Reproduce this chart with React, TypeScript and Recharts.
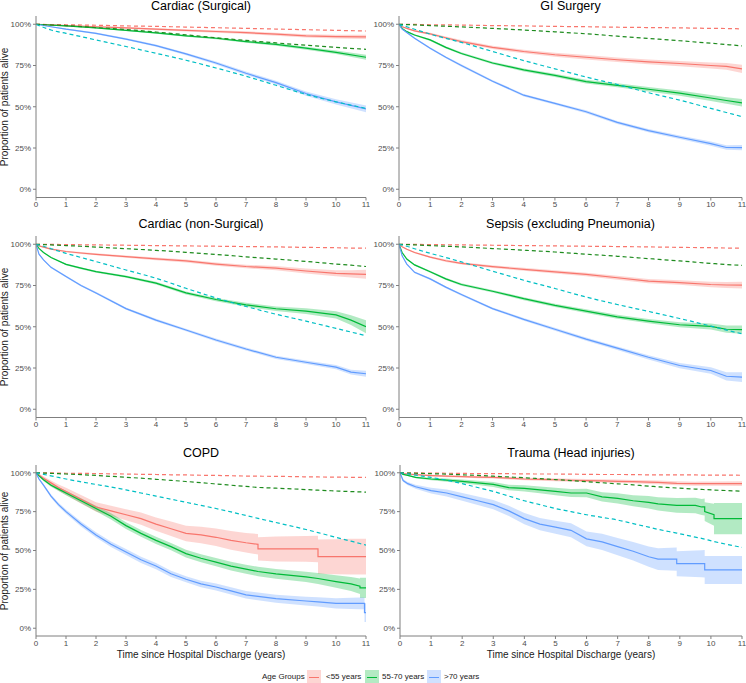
import { ComposedChart, Area, Line, XAxis, YAxis } from 'recharts'

const FONT = '"Liberation Sans", Arial, sans-serif'
const RED = '#F8766D'
const GREEN = '#00BA38'
const BLUE = '#619CFF'
const RED_EXP = '#F8766D'
const GREEN_EXP = '#1E8B1E'
const BLUE_EXP = '#00BFC4'
const AXIS = '#7F7F7F'

const X_TICKS = [0, 1, 2, 3, 4, 5, 6, 7, 8, 9, 10, 11]
const Y_TICKS = [0, 25, 50, 75, 100]
const GROUPS = ['<55 years', '55-70 years', '>70 years']

// ---- Cardiac (Surgical) ----
const CS_T = [0, 0.5, 1, 2, 3, 4, 5, 6, 7, 8, 9, 10, 11]
const CS_RED = [100, 99.6, 99.2, 98.5, 97.8, 97, 96.3, 95.6, 94.9, 94, 93, 92.5, 92.3]
const CS_RED_CI = [0, 0.3, 0.4, 0.5, 0.6, 0.6, 0.7, 0.7, 0.8, 0.9, 1, 1.1, 1.3]
const CS_GREEN = [100, 99.5, 99, 97.8, 96.3, 94.8, 93, 91.5, 89.5, 87.8, 85.5, 83, 80]
const CS_GREEN_CI = [0, 0.2, 0.3, 0.4, 0.4, 0.5, 0.5, 0.6, 0.7, 0.8, 0.9, 1.1, 1.5]
const CS_BLUE = [100, 98.5, 97, 94.5, 91, 87, 82, 76.5, 70.3, 64.6, 58, 53, 48.7]
const CS_BLUE_CI = [0, 0.3, 0.4, 0.5, 0.6, 0.7, 0.8, 0.9, 1, 1.1, 1.3, 1.6, 2]
const CS_EXP_RED = [100, 99.8, 99.7, 99.4, 99.0, 98.7, 98.3, 97.9, 97.5, 97.1, 96.7, 96.3, 95.9]
const CS_EXP_GREEN = [100, 99.6, 99.2, 98, 96.8, 95.3, 93.6, 91.8, 90.2, 88.7, 87.3, 86, 84.8]
const CS_EXP_BLUE = [100, 96.5, 94.5, 90.5, 86.5, 82.4, 78.2, 73.5, 68.5, 63, 57.5, 53, 49]

// ---- shared time grid for the smooth panels ----
const SMOOTH_T = [0, 0.1, 0.25, 0.5, 1, 1.5, 2, 3, 4, 5, 6, 7, 8, 9, 10, 10.5, 11]

// ---- GI Surgery ----
const GI_RED = [100, 98.5, 97.5, 96, 94.2, 91.8, 89.5, 86, 83.5, 81.5, 80, 78.5, 77.2, 76.2, 75, 74.5, 73]
const GI_RED_CI = [0, 0.3, 0.4, 0.5, 0.7, 0.8, 0.9, 1, 1.1, 1.2, 1.3, 1.4, 1.5, 1.6, 1.8, 2, 2.5]
const GI_GREEN = [100, 97.5, 95.5, 93.5, 90.5, 86, 82.3, 76.5, 72.3, 69, 65.2, 63, 60.6, 58.3, 55.3, 53.8, 52.4]
const GI_GREEN_CI = [0, 0.3, 0.4, 0.5, 0.6, 0.7, 0.7, 0.8, 0.9, 1, 1.1, 1.2, 1.4, 1.6, 1.8, 2, 2.3]
const GI_BLUE = [100, 97, 95, 91.5, 85.5, 80, 75, 65.5, 57, 52, 47, 40.5, 35.5, 31.5, 27.7, 25.3, 25.2]
const GI_BLUE_CI = [0, 0.3, 0.4, 0.5, 0.6, 0.6, 0.7, 0.7, 0.8, 0.8, 0.9, 0.9, 1, 1.1, 1.3, 1.4, 1.6]
const GI_EXP_RED = [100, 100, 99.9, 99.9, 99.7, 99.6, 99.5, 99.2, 99, 98.7, 98.5, 98.2, 98, 97.8, 97.5, 97.4, 97.2]
const GI_EXP_GREEN = [100, 99.9, 99.8, 99.6, 99.2, 98.8, 98.4, 97.5, 96.5, 95.4, 94.2, 92.8, 91.4, 90, 88.5, 87.7, 86.9]
const GI_EXP_BLUE = [100, 99.3, 98.5, 97, 94, 91.5, 89, 83.5, 78, 73, 68, 63.5, 58.5, 54, 49, 46.5, 44]

// ---- Cardiac (non-Surgical) ----
const CN_RED = [100, 99, 98.3, 97, 95.6, 94.7, 93.9, 92.5, 91.1, 89.9, 88, 86.5, 85.5, 83.8, 82.4, 82, 81.8]
const CN_RED_CI = [0, 0.2, 0.3, 0.4, 0.5, 0.6, 0.6, 0.7, 0.8, 0.9, 1, 1.1, 1.3, 1.5, 1.8, 2.2, 2.7]
const CN_GREEN = [100, 97.5, 95, 92, 87.8, 85.5, 83.4, 80.4, 76.4, 70.5, 66.5, 63.3, 60.9, 59.5, 57.2, 54, 50]
const CN_GREEN_CI = [0, 0.2, 0.3, 0.4, 0.5, 0.6, 0.6, 0.7, 0.8, 0.9, 1, 1.2, 1.4, 1.7, 2.2, 3, 4]
const CN_BLUE = [100, 94, 90.5, 86, 80.5, 75, 70.5, 61, 54, 48, 42, 36.5, 31.5, 28.5, 25.5, 22.5, 21.5]
const CN_BLUE_CI = [0, 0.3, 0.4, 0.5, 0.6, 0.6, 0.7, 0.7, 0.8, 0.8, 0.9, 0.9, 1, 1.1, 1.3, 1.5, 1.8]
const CN_EXP_RED = [100, 100, 99.9, 99.9, 99.8, 99.7, 99.6, 99.4, 99.2, 99, 98.8, 98.6, 98.4, 98.1, 97.9, 97.7, 97.6]
const CN_EXP_GREEN = [100, 99.9, 99.8, 99.6, 99.2, 98.8, 98.3, 97.3, 96.3, 95.1, 93.8, 92.4, 91, 89.6, 88, 87.3, 86.5]
const CN_EXP_BLUE = [100, 99.5, 98.8, 97.3, 94.5, 92, 89.5, 84.4, 79.4, 73.3, 67.5, 62.3, 57.6, 53.4, 49, 46.8, 44.6]

// ---- Sepsis (excluding Pneumonia) ----
const SP_RED = [100, 98.5, 97, 95, 92.2, 90, 88.4, 86.4, 84.8, 83.3, 81.7, 79.7, 77.6, 76.8, 75.6, 75.3, 75.2]
const SP_RED_CI = [0, 0.3, 0.4, 0.5, 0.6, 0.7, 0.7, 0.8, 0.9, 1, 1.1, 1.2, 1.3, 1.4, 1.6, 1.8, 2]
const SP_GREEN = [100, 95, 91, 87.5, 83.3, 79, 75.6, 71.5, 67, 63, 59.5, 56, 53.4, 51.2, 50.2, 48.5, 48.2]
const SP_GREEN_CI = [0, 0.3, 0.4, 0.5, 0.6, 0.7, 0.7, 0.8, 0.9, 1, 1.1, 1.2, 1.3, 1.5, 1.8, 2.2, 2.5]
const SP_BLUE = [100, 93, 88, 83, 79, 74, 69.5, 61, 54.5, 48.5, 42.5, 37, 31.5, 26.5, 23.5, 20, 19.5]
const SP_BLUE_CI = [0, 0.3, 0.4, 0.5, 0.6, 0.6, 0.7, 0.7, 0.8, 0.9, 1, 1.1, 1.3, 1.6, 2, 2.5, 3]
const SP_EXP_RED = [100, 100, 99.9, 99.9, 99.8, 99.7, 99.6, 99.4, 99.2, 99, 98.8, 98.6, 98.4, 98.1, 97.9, 97.7, 97.6]
const SP_EXP_GREEN = [100, 99.9, 99.8, 99.6, 99.2, 98.8, 98.4, 97.4, 96.4, 95.3, 94, 92.7, 91.3, 89.9, 88.4, 87.7, 87.2]
const SP_EXP_BLUE = [100, 99.5, 98.8, 97.3, 94.5, 92, 89.3, 83.7, 78.2, 73.2, 68, 63.5, 59.3, 55, 50.4, 48, 45.7]

// ---- COPD (repeated times mark the KM steps) ----
const CO_T = [0, 0.1, 0.25, 0.5, 0.75, 1, 1.5, 2, 2.5, 3, 3.5, 4, 4.5, 5, 5.5, 6, 6.5, 7, 7.4, 7.4, 8, 9, 9.4, 9.4, 10, 10.5, 10.8, 10.8, 10.95, 10.95, 11]
const CO_RED = [100, 98.5, 96.5, 93.5, 90.5, 88, 83, 78, 75.5, 73, 70.5, 67, 64, 61, 60, 58.5, 56.5, 55, 54, 51, 51, 51, 51, 46, 46, 46, 46, 46, 46, 46, 46]
const CO_RED_CI = [0, 0.8, 1.2, 1.6, 2, 2.3, 2.7, 3, 3.3, 3.6, 4, 4.3, 4.6, 5, 5.3, 5.6, 6, 6.3, 6.6, 7.5, 8, 8.3, 8.5, 11, 11.3, 11.5, 11.5, 11.5, 11.5, 11.5, 11.5]
const CO_GREEN = [100, 98, 95.5, 92, 89.5, 87, 82, 77, 72, 66, 61, 56.5, 52.5, 48, 45, 42.5, 40, 38, 36.5, 36.5, 35, 33, 32, 32, 30, 28.5, 27, 26, 26, 26, 26]
const CO_GREEN_CI = [0, 0.5, 0.8, 1, 1.2, 1.4, 1.6, 1.8, 2, 2.1, 2.2, 2.3, 2.4, 2.5, 2.6, 2.7, 2.8, 2.9, 3, 3, 3.1, 3.3, 3.5, 3.5, 4, 4.5, 5, 6.5, 6.5, 6.5, 6.5]
const CO_BLUE = [100, 96, 92, 85, 79.5, 75, 67, 60, 54, 49, 44, 40, 35, 31.5, 28.5, 26.5, 24, 21.5, 20.5, 20.5, 19, 17.5, 17, 17, 16, 16, 16, 16, 16, 10, 10]
const CO_BLUE_CI = [0, 0.6, 0.8, 1, 1.2, 1.4, 1.6, 1.7, 1.8, 1.9, 2, 2, 2, 2, 2.1, 2.2, 2.3, 2.4, 2.5, 2.5, 2.6, 2.8, 3, 3, 3.3, 3.6, 3.8, 3.8, 3.8, 6, 6]
const CO_EXP_RED = [100, 100, 99.9, 99.9, 99.8, 99.7, 99.6, 99.5, 99.3, 99.2, 99, 98.9, 98.7, 98.6, 98.4, 98.3, 98.1, 97.9, 97.8, 97.8, 97.7, 97.4, 97.3, 97.3, 97.2, 97.1, 97, 97, 97, 97, 97]
const CO_EXP_GREEN = [100, 99.9, 99.8, 99.6, 99.4, 99.2, 98.8, 98.3, 97.7, 97.1, 96.5, 95.8, 95.1, 94.4, 93.6, 92.8, 92, 91.2, 90.6, 90.6, 90.1, 89.2, 88.8, 88.8, 88.3, 87.9, 87.7, 87.7, 87.6, 87.6, 87.5]
const CO_EXP_BLUE = [100, 99.6, 99, 98, 97, 96, 94.2, 92.5, 90.8, 89, 87, 85, 83, 81, 79, 77, 74.8, 72.5, 70.7, 70.7, 68, 63.5, 61.5, 61.5, 58.5, 56, 54.5, 54.5, 53.8, 53.8, 53.5]

// ---- Trauma (Head injuries) ----
const TR_T = [0, 0.1, 0.25, 0.5, 1, 1.5, 2, 2.5, 3, 3.5, 4, 4.5, 5, 5.5, 6, 6.5, 7, 7.5, 8, 8.3, 8.9, 8.9, 9.5, 9.7, 9.8, 9.8, 10.1, 10.1, 11]
const TR_RED = [100, 99.5, 99.2, 98.8, 98.2, 97.8, 97.5, 97.2, 97, 96.5, 96, 95.8, 95.5, 95.2, 95, 94.8, 94.5, 94.3, 94, 93.8, 93.2, 93.2, 93, 93, 93, 93, 93, 93, 93]
const TR_RED_CI = [0, 0.2, 0.3, 0.4, 0.5, 0.6, 0.6, 0.7, 0.7, 0.8, 0.8, 0.9, 0.9, 1, 1, 1, 1.1, 1.1, 1.2, 1.2, 1.3, 1.3, 1.3, 1.4, 1.4, 1.4, 1.4, 1.4, 1.5]
const TR_GREEN = [100, 99, 98.3, 97, 96, 95.3, 94.5, 93.5, 92.5, 90.5, 90, 89, 88, 87, 87, 84.5, 83.5, 82, 81, 80, 79, 79, 79, 78, 78, 75, 73, 70.5, 70.5]
const TR_GREEN_CI = [0, 0.3, 0.4, 0.6, 0.8, 1, 1.2, 1.4, 1.6, 1.8, 2, 2.2, 2.4, 2.6, 2.8, 3, 3.3, 3.6, 4, 4.3, 4.7, 4.7, 5, 5.2, 5.5, 6, 7, 10, 10]
const TR_BLUE = [100, 95, 93, 91, 88.5, 87, 84.5, 82, 79.5, 75.5, 70.5, 67, 65, 63, 57.5, 55.5, 52.5, 49.5, 46, 44.5, 44.5, 41.5, 41.5, 41.5, 41.5, 37.5, 37.5, 37.5, 37.5]
const TR_BLUE_CI = [0, 0.8, 1, 1.3, 1.8, 2.2, 2.5, 2.8, 3, 3.3, 3.6, 3.9, 4.2, 4.5, 4.8, 5.2, 5.6, 6, 6.5, 7, 7.5, 8, 8.5, 8.7, 8.8, 9, 9, 9, 9]
const TR_EXP_RED = [100, 100, 99.9, 99.9, 99.8, 99.7, 99.6, 99.5, 99.5, 99.4, 99.3, 99.2, 99.2, 99.1, 99, 98.9, 98.9, 98.8, 98.7, 98.7, 98.6, 98.6, 98.6, 98.5, 98.5, 98.5, 98.5, 98.5, 98.4]
const TR_EXP_GREEN = [100, 99.9, 99.8, 99.7, 99.4, 99.1, 98.7, 98.3, 97.8, 97.3, 96.8, 96.2, 95.6, 95, 94.3, 93.6, 92.9, 92.2, 91.4, 91, 90.2, 90.2, 89.5, 89.3, 89.2, 89.2, 88.9, 88.9, 88.2]
const TR_EXP_BLUE = [100, 99.7, 99.3, 98.5, 97, 95.2, 93, 90.5, 88, 85, 82, 79.5, 77, 75, 73, 71.3, 69.6, 67.3, 65, 63.6, 61.2, 61.2, 58.6, 57.8, 57.3, 57.3, 55.8, 55.8, 52]

type Row = Record<string, number | number[]>

function buildRows(
  t: number[],
  red: number[], redCi: number[],
  green: number[], greenCi: number[],
  blue: number[], blueCi: number[],
  eRed: number[], eGreen: number[], eBlue: number[],
): Row[] {
  return t.map((x, i) => ({
    t: x,
    red: red[i],
    redBand: [red[i] - redCi[i], red[i] + redCi[i]],
    green: green[i],
    greenBand: [green[i] - greenCi[i], green[i] + greenCi[i]],
    blue: blue[i],
    blueBand: [blue[i] - blueCi[i], blue[i] + blueCi[i]],
    eRed: eRed[i],
    eGreen: eGreen[i],
    eBlue: eBlue[i],
  }))
}

const Y_W = 36
const X_H = 15

function SurvPanel({ title, rows, plotLeft, plotTop, plotW, plotH, titleTop, yLabel, xLabel }: {
  title: string; rows: Row[]; plotLeft: number; plotTop: number; plotW: number; plotH: number
  titleTop: number; yLabel?: boolean; xLabel?: boolean
}) {
  const tickStyle = { fill: '#4D4D4D', fontSize: 8, fontFamily: FONT }
  return (
    <>
      <div style={{
        position: 'absolute', left: plotLeft, top: titleTop, width: plotW,
        textAlign: 'center', fontSize: 12.5, lineHeight: '14px', color: '#000', fontWeight: 400,
      }}>{title}</div>
      {yLabel && (
        <div style={{
          position: 'absolute', left: 5, top: plotTop + plotH / 2, width: 200,
          textAlign: 'center', fontSize: 10, lineHeight: '12px', color: '#1A1A1A',
          transform: 'translate(-50%, -50%) rotate(-90deg)',
        }}>Proportion of patients alive</div>
      )}
      {xLabel && (
        <div style={{
          position: 'absolute', left: plotLeft, top: plotTop + plotH + 13, width: plotW,
          textAlign: 'center', fontSize: 10, lineHeight: '12px', color: '#1A1A1A',
        }}>Time since Hospital Discharge (years)</div>
      )}
      <div style={{ position: 'absolute', left: plotLeft - Y_W, top: plotTop }}>
        <ComposedChart
          width={Y_W + plotW + 4}
          height={plotH + X_H}
          data={rows}
          margin={{ top: 0, right: 4, bottom: 0, left: 0 }}
        >
          <XAxis
            dataKey="t" type="number" domain={[0, 11]} ticks={X_TICKS} interval={0}
            height={X_H} tick={tickStyle} tickSize={3} tickMargin={1}
            axisLine={{ stroke: AXIS }} tickLine={{ stroke: AXIS }}
            allowDataOverflow
          />
          <YAxis
            type="number" domain={[-5, 105]} ticks={Y_TICKS} interval={0}
            width={Y_W} tick={tickStyle} tickSize={3} tickMargin={2}
            tickFormatter={(v: number) => `${v}%`}
            axisLine={{ stroke: AXIS }} tickLine={{ stroke: AXIS }}
            allowDataOverflow
          />
          <Area dataKey="redBand" type="linear" stroke="none" fill={RED} fillOpacity={0.3} dot={false} activeDot={false} isAnimationActive={false} />
          <Area dataKey="greenBand" type="linear" stroke="none" fill={GREEN} fillOpacity={0.3} dot={false} activeDot={false} isAnimationActive={false} />
          <Area dataKey="blueBand" type="linear" stroke="none" fill={BLUE} fillOpacity={0.3} dot={false} activeDot={false} isAnimationActive={false} />
          <Line dataKey="red" type="linear" stroke={RED} strokeWidth={1.2} dot={false} activeDot={false} isAnimationActive={false} />
          <Line dataKey="green" type="linear" stroke={GREEN} strokeWidth={1.2} dot={false} activeDot={false} isAnimationActive={false} />
          <Line dataKey="blue" type="linear" stroke={BLUE} strokeWidth={1.2} dot={false} activeDot={false} isAnimationActive={false} />
          <Line dataKey="eRed" type="monotone" stroke={RED_EXP} strokeWidth={1.2} strokeDasharray="4 3" dot={false} activeDot={false} isAnimationActive={false} />
          <Line dataKey="eGreen" type="monotone" stroke={GREEN_EXP} strokeWidth={1.2} strokeDasharray="4 3" dot={false} activeDot={false} isAnimationActive={false} />
          <Line dataKey="eBlue" type="monotone" stroke={BLUE_EXP} strokeWidth={1.2} strokeDasharray="4 3" dot={false} activeDot={false} isAnimationActive={false} />
        </ComposedChart>
      </div>
    </>
  )
}

function LegendKey({ color, left }: { color: string; left: number }) {
  return (
    <div style={{ position: 'absolute', left, top: 670, width: 14, height: 14, background: color }}>
      <div style={{ position: 'absolute', inset: 0, background: '#fff', opacity: 0.7 }} />
      <div style={{ position: 'absolute', left: 2, right: 2, top: 6.5, height: 1.2, background: color }} />
    </div>
  )
}

export default function App() {
  const panels = [
    { title: 'Cardiac (Surgical)', rows: buildRows(CS_T, CS_RED, CS_RED_CI, CS_GREEN, CS_GREEN_CI, CS_BLUE, CS_BLUE_CI, CS_EXP_RED, CS_EXP_GREEN, CS_EXP_BLUE), plotLeft: 36, plotTop: 16, plotW: 330, plotH: 181.5, titleTop: -1, yLabel: true },
    { title: 'GI Surgery', rows: buildRows(SMOOTH_T, GI_RED, GI_RED_CI, GI_GREEN, GI_GREEN_CI, GI_BLUE, GI_BLUE_CI, GI_EXP_RED, GI_EXP_GREEN, GI_EXP_BLUE), plotLeft: 399, plotTop: 16, plotW: 343, plotH: 181.5, titleTop: -1 },
    { title: 'Cardiac (non-Surgical)', rows: buildRows(SMOOTH_T, CN_RED, CN_RED_CI, CN_GREEN, CN_GREEN_CI, CN_BLUE, CN_BLUE_CI, CN_EXP_RED, CN_EXP_GREEN, CN_EXP_BLUE), plotLeft: 36, plotTop: 236, plotW: 330, plotH: 181.5, titleTop: 217, yLabel: true },
    { title: 'Sepsis (excluding Pneumonia)', rows: buildRows(SMOOTH_T, SP_RED, SP_RED_CI, SP_GREEN, SP_GREEN_CI, SP_BLUE, SP_BLUE_CI, SP_EXP_RED, SP_EXP_GREEN, SP_EXP_BLUE), plotLeft: 399, plotTop: 236, plotW: 343, plotH: 181.5, titleTop: 217 },
    { title: 'COPD', rows: buildRows(CO_T, CO_RED, CO_RED_CI, CO_GREEN, CO_GREEN_CI, CO_BLUE, CO_BLUE_CI, CO_EXP_RED, CO_EXP_GREEN, CO_EXP_BLUE), plotLeft: 36, plotTop: 465, plotW: 330, plotH: 171, titleTop: 446, yLabel: true, xLabel: true },
    { title: 'Trauma (Head injuries)', rows: buildRows(TR_T, TR_RED, TR_RED_CI, TR_GREEN, TR_GREEN_CI, TR_BLUE, TR_BLUE_CI, TR_EXP_RED, TR_EXP_GREEN, TR_EXP_BLUE), plotLeft: 400, plotTop: 465, plotW: 342, plotH: 171, titleTop: 446, xLabel: true },
  ]
  return (
    <div style={{
      position: 'absolute', left: 0, top: 0, width: 746, height: 683,
      background: '#fff', fontFamily: FONT, overflow: 'hidden',
    }}>
      {panels.map((p) => <SurvPanel key={p.title} {...p} />)}

      {/* legend */}
      <div style={{ position: 'absolute', left: 262, top: 671, fontSize: 8, lineHeight: '12px', color: '#1A1A1A' }}>Age Groups</div>
      <LegendKey color={RED} left={307} />
      <div style={{ position: 'absolute', left: 326, top: 671, fontSize: 8, lineHeight: '12px', color: '#1A1A1A' }}>{GROUPS[0]}</div>
      <LegendKey color={GREEN} left={365} />
      <div style={{ position: 'absolute', left: 382, top: 671, fontSize: 8, lineHeight: '12px', color: '#1A1A1A' }}>{GROUPS[1]}</div>
      <LegendKey color={BLUE} left={427} />
      <div style={{ position: 'absolute', left: 444, top: 671, fontSize: 8, lineHeight: '12px', color: '#1A1A1A' }}>{GROUPS[2]}</div>
    </div>
  )
}
